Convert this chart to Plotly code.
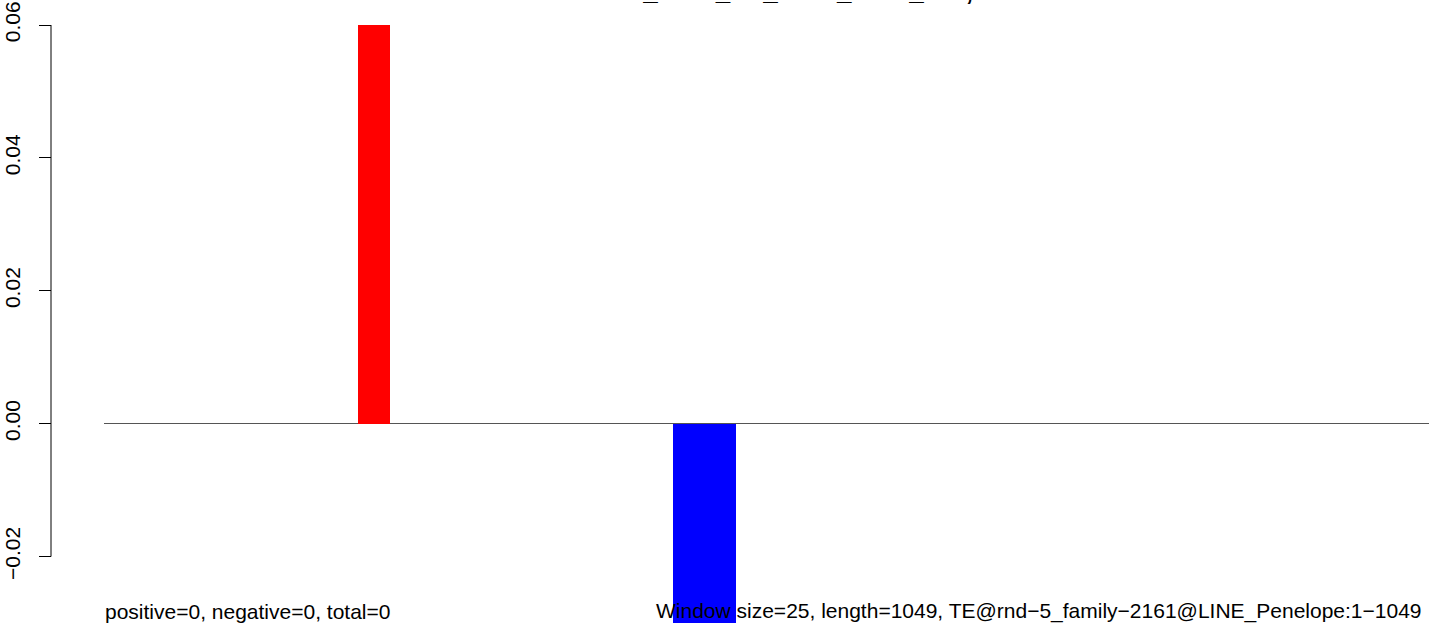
import plotly.graph_objects as go

# window data (window size 25bp over a 1049bp element)
window_size = 25
seq_length = 1049
window_starts = [200, 450, 475]
window_values = [0.06, -0.03, -0.03]
y_ticks = [-0.02, 0.00, 0.02, 0.04, 0.06]
y_tick_labels = ['\u22120.02', '0.00', '0.02', '0.04', '0.06']

title_text = 'rnd5_2161_TE_LINE_2161_rnd, sense'
info_left = 'positive=0, negative=0, total=0'
info_right = ('Window size=25, length=1049, '
              'TE@rnd\u22125_family\u22122161@LINE_Penelope:1\u22121049')

centers = [s + window_size / 2 for s in window_starts]
colors = ['red' if v > 0 else 'blue' for v in window_values]

W, H = 1429, 631
ml, mt, mb = 51, 25, 8
plot_w = W - ml
plot_h = H - mt - mb


def px_x(p):
    return (p - ml) / plot_w


def px_y(p):
    return (H - mb - p) / plot_h


fig = go.Figure()
fig.add_trace(go.Bar(x=centers, y=window_values, width=[window_size] * len(centers),
                     marker=dict(color=colors, line=dict(width=0)),
                     showlegend=False, hoverinfo='skip'))

fig.update_layout(
    width=W, height=H,
    margin=dict(l=ml, r=0, t=mt, b=mb),
    paper_bgcolor='white', plot_bgcolor='white',
    font=dict(family='Liberation Sans, Arial, sans-serif', size=21, color='black'),
    xaxis=dict(domain=[px_x(104), 1], range=[-1.6, seq_length + 1], visible=False,
               showgrid=False, zeroline=False),
    yaxis=dict(range=[-0.03, 0.06], anchor='free', position=0,
               tickvals=y_ticks, ticktext=y_tick_labels, tickangle=-90,
               ticks='outside', ticklen=12, tickcolor='black', tickwidth=1,
               ticklabelstandoff=11,
               showgrid=False, showline=False,
               zeroline=True, zerolinecolor='#555555', zerolinewidth=1),
    bargap=0,
)

# R style axis line spanning only the tick range
fig.add_shape(type='line', xref='paper', yref='y', x0=0, x1=0,
              y0=y_ticks[0], y1=y_ticks[-1], line=dict(color='black', width=1))

fig.add_annotation(text=info_left, xref='paper', yref='paper', x=px_x(103), y=px_y(611),
                   xanchor='left', yanchor='middle', showarrow=False)
fig.add_annotation(text=info_right, xref='paper', yref='paper', x=px_x(654), y=px_y(611),
                   xanchor='left', yanchor='middle', showarrow=False)
fig.add_annotation(text='<b>' + title_text + '</b>', xref='paper', yref='paper',
                   x=px_x(585), y=px_y(8), xanchor='left', yanchor='bottom',
                   showarrow=False, font=dict(size=26))

# drop the default page margin so the figure sits at the window corner
fig.write_html('out.html', config={'displayModeBar': False},
               post_script="document.body.style.margin='0';")
